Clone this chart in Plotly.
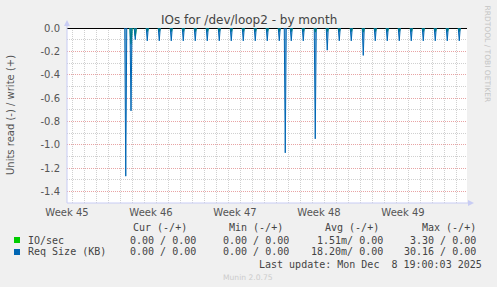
import plotly.graph_objects as go
from datetime import datetime, timedelta

# ---------------- data ----------------
range_start = "2025-11-05 13:00"
range_end = "2025-12-08 21:00"

week_labels = ["Week 45", "Week 46", "Week 47", "Week 48", "Week 49"]
week_label_pos = ["2025-11-05 13:00", "2025-11-12 13:00", "2025-11-19 13:00",
                  "2025-11-26 13:00", "2025-12-03 13:00"]
week_bounds = ["2025-11-09 00:00", "2025-11-16 00:00", "2025-11-23 00:00",
               "2025-11-30 00:00", "2025-12-07 00:00"]

y_tick_vals = [0.0, -0.2, -0.4, -0.6, -0.8, -1.0, -1.2, -1.4]
y_tick_text = ["0.0", "-0.2", "-0.4", "-0.6", "-0.8", "-1.0", "-1.2", "-1.4"]

# Req Size (KB), read side (negative), spikes
req_times = ["2025-11-10 10:30", "2025-11-10 21:00", "2025-11-11 05:30",
             "2025-11-12 05:30", "2025-11-13 05:30", "2025-11-14 05:30",
             "2025-11-15 05:30", "2025-11-16 05:30", "2025-11-17 05:30",
             "2025-11-18 05:30", "2025-11-19 05:30", "2025-11-20 05:30",
             "2025-11-21 05:30", "2025-11-22 05:30", "2025-11-23 05:30",
             "2025-11-23 17:30", "2025-11-24 05:30", "2025-11-25 05:30",
             "2025-11-26 05:30", "2025-11-27 05:30", "2025-11-28 05:30",
             "2025-11-29 05:30", "2025-11-30 05:30", "2025-12-01 05:30",
             "2025-12-02 05:30", "2025-12-03 05:30", "2025-12-04 05:30",
             "2025-12-05 05:30", "2025-12-06 05:30", "2025-12-07 05:30",
             "2025-12-08 05:30"]
req_values = [-1.27, -0.71, -0.10,
              -0.11, -0.11, -0.11,
              -0.11, -0.11, -0.11,
              -0.11, -0.11, -0.11,
              -0.11, -0.11, -0.11,
              -1.07, -0.11, -0.11,
              -0.95, -0.19, -0.11,
              -0.11, -0.235, -0.11,
              -0.11, -0.11, -0.11,
              -0.11, -0.11, -0.11,
              -0.11]

# IO/sec, read side (negative), small spikes
io_times = ["2025-11-10 21:00", "2025-11-11 05:30", "2025-11-12 05:30",
            "2025-11-13 05:30", "2025-11-14 05:30", "2025-11-15 05:30",
            "2025-11-16 05:30", "2025-11-17 05:30", "2025-11-18 05:30",
            "2025-11-19 05:30", "2025-11-20 05:30", "2025-11-21 05:30",
            "2025-11-22 05:30", "2025-11-23 05:30", "2025-11-24 05:30",
            "2025-11-25 05:30", "2025-11-26 05:30", "2025-11-27 05:30",
            "2025-11-28 05:30", "2025-11-29 05:30", "2025-11-30 05:30",
            "2025-12-01 05:30", "2025-12-02 05:30", "2025-12-03 05:30",
            "2025-12-04 05:30", "2025-12-05 05:30", "2025-12-06 05:30",
            "2025-12-07 05:30", "2025-12-08 05:30"]
io_values = [-0.14, -0.07, -0.03,
             -0.03, -0.03, -0.03,
             -0.03, -0.03, -0.03,
             -0.03, -0.03, -0.03,
             -0.03, -0.03, -0.03,
             -0.03, -0.035, -0.03,
             -0.03, -0.03, -0.035,
             -0.03, -0.03, -0.03,
             -0.03, -0.03, -0.03,
             -0.03, -0.03]

legend_header = ["Cur (-/+)", "Min (-/+)", "Avg (-/+)", "Max (-/+)"]
io_stats = ["0.00 / 0.00", "0.00 / 0.00", "1.51m/ 0.00", "3.30 / 0.00"]
req_stats = ["0.00 / 0.00", "0.00 / 0.00", "18.20m/ 0.00", "30.16 / 0.00"]
last_update = "Last update: Mon Dec\u00a0\u00a08 19:00:03 2025"

# ---------------- layout constants ----------------
WIDTH, HEIGHT = 497, 287
L, T, R, B = 67, 28, 467, 203
PW, PH = R - L, B - T
STEP = timedelta(hours=2)  # data resolution (one pixel)

BLUE = "#0066B3"
BLUE_FILL = "rgba(0,102,179,0.55)"
GREEN = "#00CC00"
TXT = "#555555"
AXIS = "#C8CCF4"
MGRID = "#E8A4A4"
GRID = "#D0D0D0"


def spikes(times, values):
    xs, ys = [], []
    for t, v in zip(times, values):
        d = datetime.strptime(t, "%Y-%m-%d %H:%M")
        xs += [d - STEP, d, d + STEP, None]
        ys += [0, v, 0, None]
    return xs, ys


def px(x):
    return (x - L) / PW


def py(y):
    return (B - y) / PH


def ann(text, x, y, size=10, color=TXT, family="DejaVu Sans", xanchor="left", angle=0):
    return dict(text=text, x=px(x), y=py(y), xref="paper", yref="paper",
                xanchor=xanchor, yanchor="middle", showarrow=False, textangle=angle,
                borderpad=0, font=dict(family=family, size=size, color=color))


fig = go.Figure()
rx, ry = spikes(req_times, req_values)
ix, iy = spikes(io_times, io_values)
fig.add_trace(go.Scatter(x=ix, y=iy, mode="lines", line=dict(color=GREEN, width=1.2),
                         connectgaps=False, hoverinfo="skip", showlegend=False))
fig.add_trace(go.Scatter(x=rx, y=ry, mode="lines", line=dict(color=BLUE, width=1),
                         fill="toself", fillcolor=BLUE_FILL,
                         connectgaps=False, hoverinfo="skip", showlegend=False))

shapes = []
for wb in week_bounds:
    shapes.append(dict(type="line", xref="x", yref="paper", x0=wb, x1=wb, y0=0, y1=1,
                       line=dict(color=MGRID, width=1, dash="1px,1px"), layer="below"))
# axis lines with arrows
shapes.append(dict(type="line", xref="paper", yref="paper", x0=px(L), x1=px(L),
                   y0=py(B), y1=py(22), line=dict(color=AXIS, width=1), layer="above"))
shapes.append(dict(type="line", xref="paper", yref="paper", x0=px(L), x1=px(471),
                   y0=py(B), y1=py(B), line=dict(color=AXIS, width=1), layer="above"))
shapes.append(dict(type="path", xref="paper", yref="paper",
                   path=f"M {px(64)},{py(26)} L {px(70)},{py(26)} L {px(67)},{py(20)} Z",
                   fillcolor=AXIS, line=dict(width=0), layer="above"))
shapes.append(dict(type="path", xref="paper", yref="paper",
                   path=f"M {px(468)},{py(200)} L {px(468)},{py(206)} L {px(474)},{py(203)} Z",
                   fillcolor=AXIS, line=dict(width=0), layer="above"))
# legend swatches
shapes.append(dict(type="rect", xref="paper", yref="paper", x0=px(14), x1=px(20),
                   y0=py(243), y1=py(237), fillcolor=GREEN, line=dict(width=0)))
shapes.append(dict(type="rect", xref="paper", yref="paper", x0=px(14), x1=px(20),
                   y0=py(255), y1=py(249), fillcolor=BLUE, line=dict(width=0)))

annotations = [
    ann("IOs for /dev/loop2 - by month", 248.5, 19.5, size=12, color="#444444", xanchor="center"),
    ann("Units read (-) / write (+)", 10.5, 115.5, size=10, xanchor="center", angle=-90),
    ann("RRDTOOL / TOBI OETIKER", 487, 53.5, size=7.5, color="#C4C4C4", xanchor="center", angle=90),
    ann("Munin 2.0.75", 248, 277, size=7.6, color="#CCCCCC", xanchor="center"),
    ann("IO/sec", 26.7, 240, family="DejaVu Sans Mono", color="#444444"),
    ann("Req Size (KB)", 26.7, 251.8, family="DejaVu Sans Mono", color="#444444"),
    ann(last_update, 482.8, 264, family="DejaVu Sans Mono", color="#444444", xanchor="right"),
]
header_right = [187.5, 283.5, 379.5, 476.5]
value_right = [197.2, 290.2, 383.5, 476.8]
for txt, xr in zip(legend_header, header_right):
    annotations.append(ann(txt, xr, 227.5, family="DejaVu Sans Mono", color="#444444", xanchor="right"))
for txt, xr in zip(io_stats, value_right):
    annotations.append(ann(txt, xr, 240, family="DejaVu Sans Mono", color="#444444", xanchor="right"))
for txt, xr in zip(req_stats, value_right):
    annotations.append(ann(txt, xr, 251.8, family="DejaVu Sans Mono", color="#444444", xanchor="right"))

fig.update_layout(
    width=WIDTH, height=HEIGHT,
    margin=dict(l=L, r=WIDTH - R, t=T, b=HEIGHT - B, pad=0),
    paper_bgcolor="#F0F0F0", plot_bgcolor="#FFFFFF",
    showlegend=False,
    shapes=shapes, annotations=annotations,
    xaxis=dict(type="date", range=[range_start, range_end], tickmode="array",
               tickvals=week_label_pos, ticktext=week_labels, showgrid=False,
               showline=False, zeroline=False, ticks="", ticklabelstandoff=2,
               tickfont=dict(family="DejaVu Sans", size=10, color=TXT),
               minor=dict(tickmode="linear", tick0="2025-11-06", dtick=86400000,
                          showgrid=True, gridcolor=GRID, griddash="1px,1px", gridwidth=1)),
    yaxis=dict(range=[-1.5, 0], tickmode="array", tickvals=y_tick_vals, ticktext=y_tick_text,
               showgrid=True, gridcolor=MGRID, griddash="1px,1px", gridwidth=1,
               zeroline=True, zerolinecolor="#000000", zerolinewidth=1,
               showline=False, ticks="", ticklabelstandoff=6,
               tickfont=dict(family="DejaVu Sans", size=10, color=TXT),
               minor=dict(tickmode="linear", tick0=0, dtick=0.1, showgrid=True,
                          gridcolor=GRID, griddash="1px,1px", gridwidth=1)),
)

fig.write_html("out.html")
